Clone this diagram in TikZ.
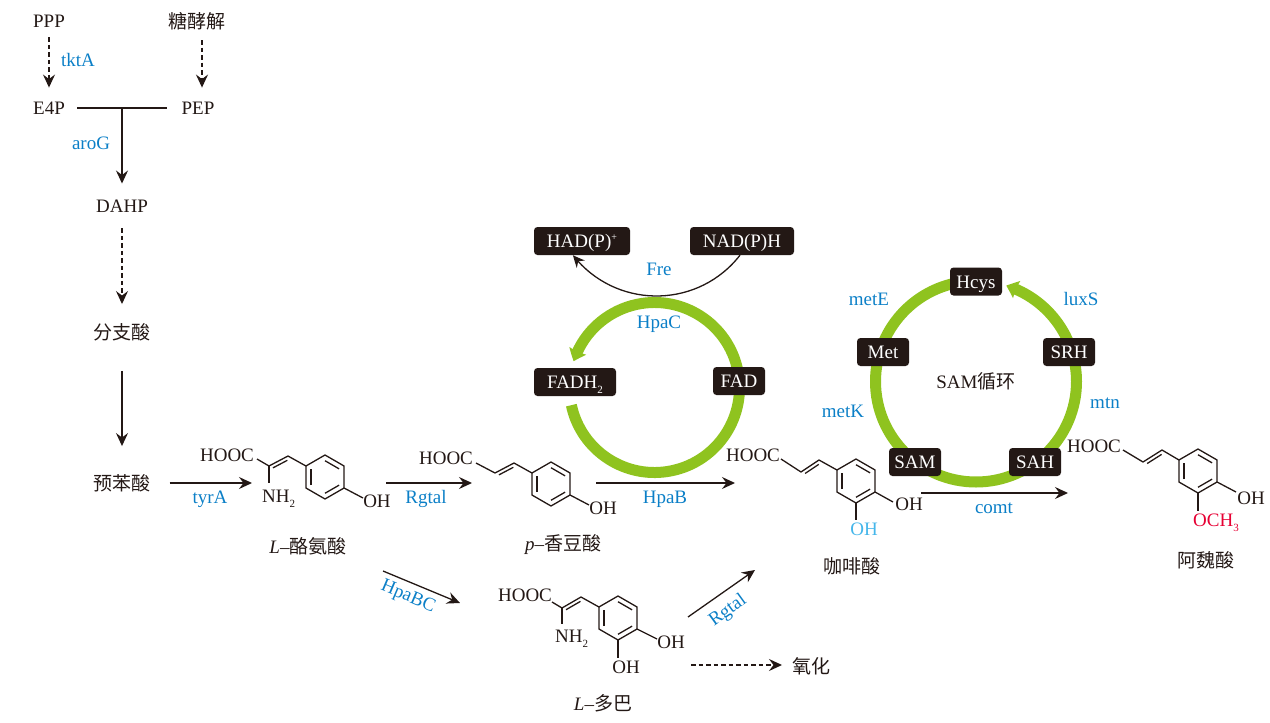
\documentclass[tikz,border=0pt]{standalone}
\usepackage{fontspec}
\setmainfont{Liberation Serif}
\newfontfamily\cjk{Noto Sans CJK SC}
\usetikzlibrary{arrows.meta,bending,calc}
\definecolor{inkblack}{HTML}{231815}
\definecolor{geneblue}{HTML}{0B7FC7}
\definecolor{ringgreen}{HTML}{8FC31F}
\definecolor{skyblue}{HTML}{45B6EA}
\definecolor{markred}{HTML}{E60033}

\newcommand{\ringchem}[3]{
  \coordinate (#1c) at (#2,#3);
  \foreach \i/\a in {1/-90,2/-30,3/30,4/90,5/150,6/-150}
    \coordinate (#1\i) at ($(#1c)+(\a:22)$);
  \draw[bond] (#11) -- (#12) -- (#13) -- (#14) -- (#15) -- (#16) -- cycle;
  \draw[bond] ($(#1c)!.74!(#15)$) -- ($(#1c)!.74!(#16)$);
  \draw[bond] ($(#1c)!.74!(#11)$) -- ($(#1c)!.74!(#12)$);
  \draw[bond] ($(#1c)!.74!(#13)$) -- ($(#1c)!.74!(#14)$);
}
\newcommand{\dblbond}[2]{
  \draw[bond] ($(#1)!.12!(#2)!3.5pt!-90:(#2)$) -- ($(#2)!.12!(#1)!3.5pt!90:(#1)$);
}
\newcommand{\lowtwo}[1]{\raisebox{-5pt}{\fontsize{11}{11}\selectfont #1}}
\newcommand{\hiplus}[1]{\raisebox{7pt}{\fontsize{10}{10}\selectfont #1}}

\begin{document}
\begin{tikzpicture}[x=1pt,y=-1pt,inkblack,font=\fontsize{19}{22}\selectfont,
  text node/.style={inner sep=10pt},
  chem node/.style={inner sep=0pt},
  gene node/.style={inner sep=0pt,text=geneblue},
  key node/.style={fill=inkblack,text=white,rounded corners=3.5pt,inner sep=0pt,minimum height=28pt,minimum width=52pt,text height=13pt,text depth=0pt},
  bond/.style={line width=1.3pt,line join=round},
  solid arrow/.style={line width=1.3pt,-{Stealth[length=13pt,width=12pt,inset=4.5pt]}},
  dash arrow/.style={solid arrow,dash pattern=on 4.5pt off 3pt},
  ring arrow/.style={line width=11pt,ringgreen,-{Stealth[length=11pt,width=18pt,inset=1pt,bend]}}]

  \useasboundingbox (0,0) rectangle (1270,723);

  \node[text node] (ppp) at (49,21) {PPP};
  \node[text node] (gly) at (197,21) {\cjk 糖酵解};
  \node[text node] (e4p) at (49,108) {E4P};
  \node[text node] (pep) at (198,108) {PEP};
  \node[text node] (dahp) at (122,206) {DAHP};
  \node[text node] (cho) at (122,332) {\cjk 分支酸};
  \node[text node] (pre) at (122,483) {\cjk 预苯酸};
  \coordinate (tee) at (122,108);

  \node[gene node] (tkta) at (78,60) {tktA};
  \node[gene node] (arog) at (91,143) {aroG};

  \path[dash arrow,shorten >=4pt]
    (ppp) edge (e4p)
    ([xshift=5pt]gly.south) edge ([xshift=4pt]pep.north);
  \path[bond,shorten <=2pt,shorten >=4pt] (e4p) edge (pep);
  \path[solid arrow,shorten >=6pt] (tee) edge (dahp);
  \path[dash arrow,shorten <=6pt,shorten >=9pt] (dahp) edge (cho);
  \path[solid arrow,shorten <=20pt,shorten >=18pt] (cho) edge (pre);

  % L-tyr
  \ringchem{t}{325}{477}
  \node[chem node] (thooc) at (227,455) {HOOC};
  \node[chem node,anchor=base west] (tnh) at (262,502) {NH\lowtwo{2}};
  \node[chem node] (toh) at (377,501) {OH};
  \node[chem node] (tname) at (308,546) {\textit{L}–\cjk 酪氨酸};
  \coordinate (ta) at (257,459);
  \coordinate (tb) at (269,466);
  \coordinate (td) at (288,456);
  \coordinate (te) at (269,483);
  \coordinate (tf) at (363,498);
  \draw[bond] (ta) -- (tb) -- (td) -- (t6);
  \dblbond{tb}{td}
  \path[bond] (tb) edge (te) (t3) edge (tf);

  % p-coumaric
  \ringchem{c}{551}{484}
  \node[chem node] (chooc) at (446,458) {HOOC};
  \node[chem node] (coh) at (603,508) {OH};
  \node[chem node] (cname) at (563,545) {\textit{p}–\cjk 香豆酸};
  \coordinate (ca) at (476,463);
  \coordinate (cb) at (495,473);
  \coordinate (cd) at (514,463);
  \coordinate (cf) at (589,505);
  \draw[bond] (ca) -- (cb) -- (cd) -- (c6);
  \dblbond{cb}{cd}
  \path[bond] (c3) edge (cf);

  % caffeic
  \ringchem{k}{856}{481}
  \node[chem node] (khooc) at (753,455) {HOOC};
  \node[chem node] (koh) at (909,504) {OH};
  \node[chem node,text=skyblue] (koh2) at (864,529) {OH};
  \node[chem node] (kname) at (852,566) {\cjk 咖啡酸};
  \coordinate (ka) at (781,459);
  \coordinate (kb) at (801,472);
  \coordinate (kd) at (819,460);
  \coordinate (kf) at (893,502);
  \coordinate (kg) at (856,520);
  \draw[bond] (ka) -- (kb) -- (kd) -- (k6);
  \dblbond{kb}{kd}
  \path[bond] (k3) edge (kf) (k4) edge (kg);

  % ferulic
  \ringchem{f}{1198}{471}
  \node[chem node] (fhooc) at (1094,446) {HOOC};
  \node[chem node] (foh) at (1251,498) {OH};
  \node[chem node,text=markred,anchor=base west] (foch) at (1193,526) {OCH\lowtwo{3}};
  \node[chem node] (fname) at (1206,560) {\cjk 阿魏酸};
  \coordinate (fa) at (1123,450);
  \coordinate (fb) at (1143,462);
  \coordinate (fd) at (1162,450);
  \coordinate (ff) at (1236,492);
  \coordinate (fg) at (1198,511);
  \draw[bond] (fa) -- (fb) -- (fd) -- (f6);
  \dblbond{fb}{fd}
  \path[bond] (f3) edge (ff) (f4) edge (fg);

  % L-dopa
  \ringchem{d}{618}{618}
  \node[chem node] (dhooc) at (525,595) {HOOC};
  \node[chem node,anchor=base west] (dnh) at (555,642) {NH\lowtwo{2}};
  \node[chem node] (doh) at (671,642) {OH};
  \node[chem node] (doh2) at (626,667) {OH};
  \node[chem node] (dname) at (603,703) {\textit{L}–\cjk 多巴};
  \coordinate (da) at (552,602);
  \coordinate (db) at (562,608);
  \coordinate (dd) at (581,597);
  \coordinate (de) at (562,624);
  \coordinate (df) at (657,639);
  \coordinate (dg) at (618,658);
  \draw[bond] (da) -- (db) -- (dd) -- (d6);
  \dblbond{db}{dd}
  \path[bond] (db) edge (de) (d3) edge (df) (d4) edge (dg);

  \node[chem node] (oxi) at (811,666) {\cjk 氧化};

  % main arrows
  \coordinate (tyrend) at (252,483);
  \coordinate (rga) at (386,483);
  \coordinate (rgb) at (472,483);
  \coordinate (hba) at (596,483);
  \coordinate (hbb) at (735,483);
  \coordinate (coa) at (921,493);
  \coordinate (cob) at (1068,493);
  \coordinate (bca) at (383,571);
  \coordinate (bcb) at (460,603);
  \coordinate (rua) at (688,617);
  \coordinate (rub) at (755,570);
  \coordinate (oxa) at (691,665);
  \coordinate (oxb) at (782,665);

  \path[solid arrow]
    (rga) edge (rgb)
    (hba) edge (hbb)
    (coa) edge (cob)
    (bca) edge (bcb)
    (rua) edge (rub);
  \path[solid arrow,shorten <=9pt] (pre) edge (tyrend);
  \path[dash arrow] (oxa) edge (oxb);

  \node[gene node] (tyra) at (210,499) {tyrA};
  \node[gene node] (rgt1) at (426,499) {Rgtal};
  \node[gene node] (hpab) at (665,499) {HpaB};
  \node[gene node] (comt) at (994,508) {comt};
  \node[gene node,rotate=-23] (hpabc) at (408,597) {HpaBC};
  \node[gene node,rotate=36] (rgt2) at (728,611) {Rgtal};

  % HpaC cycle
  \coordinate (hpc) at (654.5,387.5);
  \draw[ring arrow] ($(hpc)+(192:85pt)$) arc[start angle=192,end angle=522,radius=85pt];
  \node[key node,minimum width=96pt] (had) at (582,241) {HAD(P)\hiplus{+}};
  \node[key node,minimum width=104pt] (nad) at (742,241) {NAD(P)H};
  \node[key node,minimum width=82pt] (fadh) at (575,382) {FADH\lowtwo{2}};
  \node[key node] (fad) at (739,381) {FAD};
  \draw[line width=1.3pt,-{Stealth[length=12pt,width=11pt,inset=4pt,bend]}]
    ([xshift=-2pt]nad.south) to[out=232,in=-52,looseness=1.06] ([xshift=-9pt]had.south);
  \node[gene node] (fre) at (659,269) {Fre};
  \node[gene node] (hpacl) at (659,324) {HpaC};

  % SAM cycle
  \coordinate (smc) at (976,381.5);
  \draw[ring arrow] ($(smc)+(90:100.5pt)$) arc[start angle=90,end angle=432.5,radius=100.5pt];
  \node[key node] (hcys) at (976,281.5) {Hcys};
  \node[key node] (met) at (883,352) {Met};
  \node[key node] (srh) at (1069,352) {SRH};
  \node[key node] (sam) at (915,462) {SAM};
  \node[key node] (sah) at (1035,462) {SAH};
  \node[chem node] (samc) at (976,381) {SAM\cjk 循环};
  \node[gene node] (mete) at (869,299) {metE};
  \node[gene node] (luxs) at (1081,299) {luxS};
  \node[gene node] (metk) at (843,411) {metK};
  \node[gene node] (mtn) at (1105,403) {mtn};
\end{tikzpicture}
\end{document}
